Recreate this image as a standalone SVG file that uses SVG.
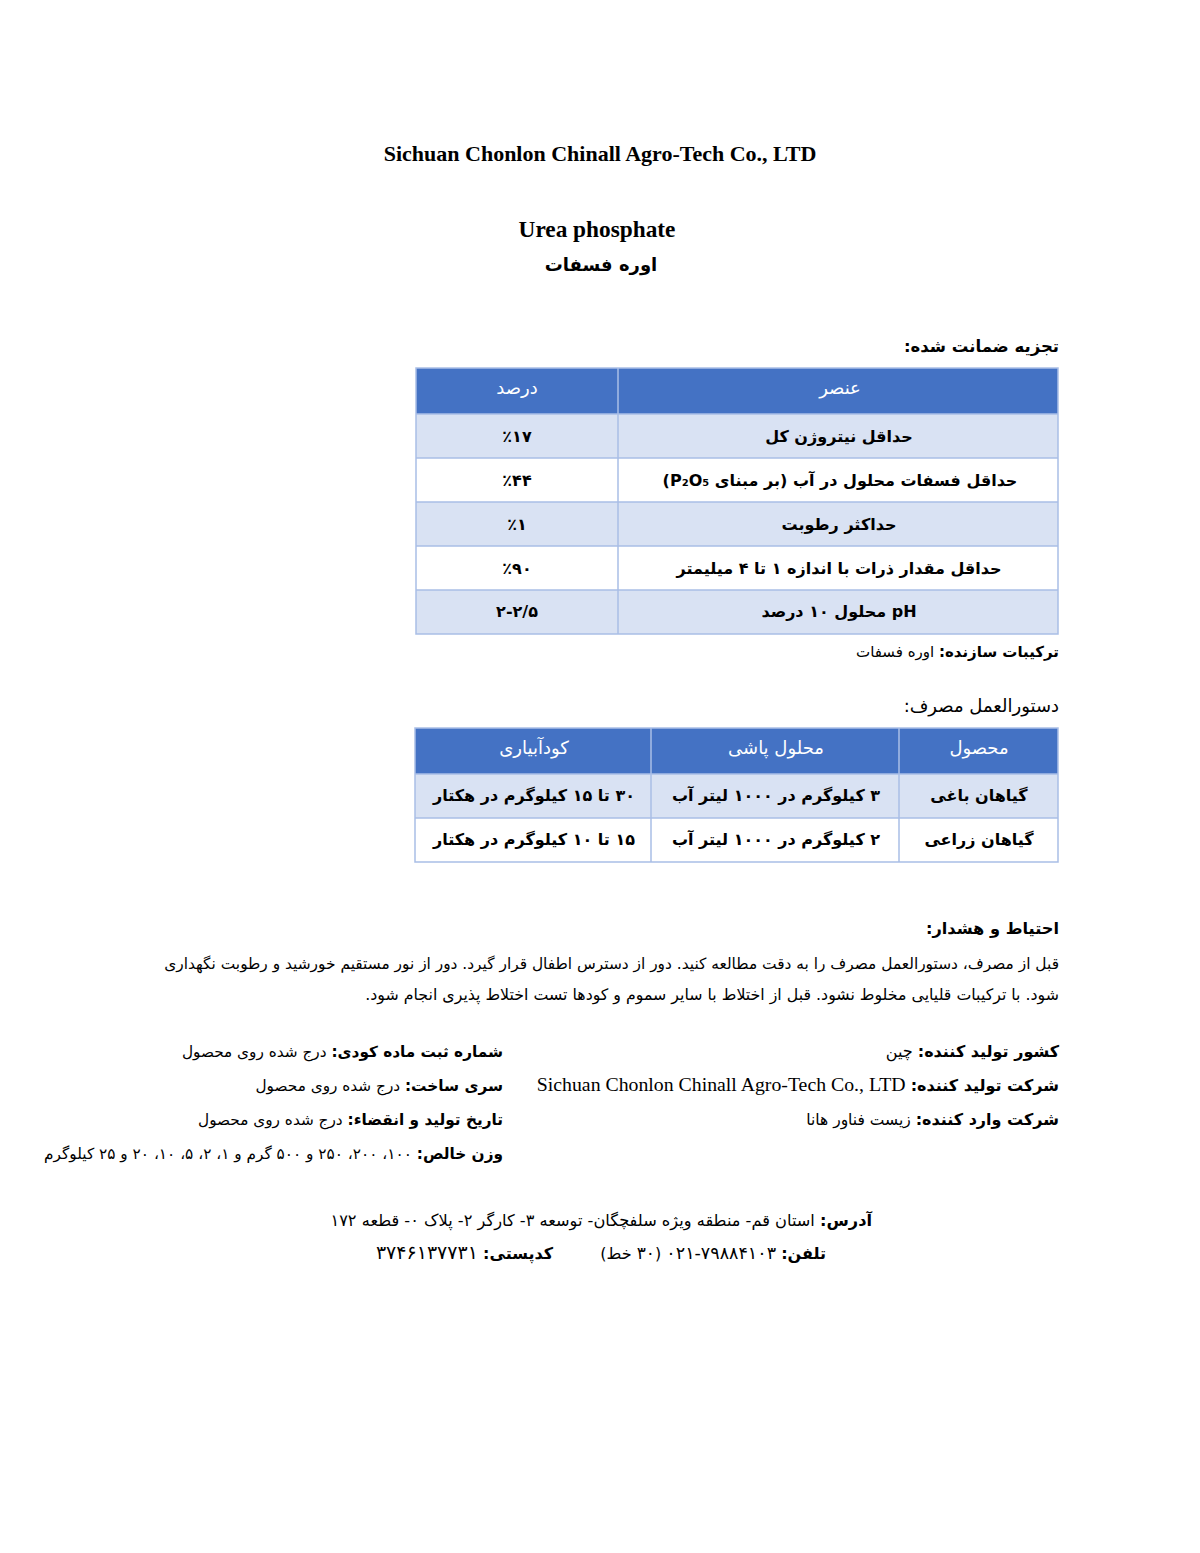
<svg xmlns="http://www.w3.org/2000/svg" width="1200" height="1553" viewBox="0 0 1200 1553">
<style>
.en{font-family:"Liberation Serif","DejaVu Sans",serif;fill:#000}
.fa{font-family:"DejaVu Sans","Liberation Serif",sans-serif;fill:#000}
.b{font-weight:bold}
.hd{fill:#4472C4}
.lt{fill:#D9E2F3}
.wt{fill:#FFFFFF}
.grid{stroke:#A9BEE6;stroke-width:1.5;fill:none}
.th{font-family:"DejaVu Sans",sans-serif;fill:#FFFFFF;font-size:18px}
.td{font-family:"DejaVu Sans","Liberation Serif",sans-serif;font-weight:bold;fill:#000;font-size:16px}
</style>
<rect width="1200" height="1553" fill="#FFFFFF"/>

<g id="titles">
<text class="en b" x="600" y="161" font-size="22" text-anchor="middle">Sichuan Chonlon Chinall Agro-Tech Co., LTD</text>
<text class="en b" x="597" y="237" font-size="23.3" text-anchor="middle">Urea phosphate</text>
<text class="fa b" x="601" y="271" font-size="18" text-anchor="middle" direction="rtl">اوره فسفات</text>
</g>

<g id="analysis">
<text class="fa b" x="1059" y="352" font-size="16.5" direction="rtl" text-anchor="start">تجزیه ضمانت شده:</text>
<rect class="hd" x="416" y="368" width="642" height="46"/>
<rect class="lt" x="416" y="414" width="642" height="44"/>
<rect class="wt" x="416" y="458" width="642" height="44"/>
<rect class="lt" x="416" y="502" width="642" height="44"/>
<rect class="wt" x="416" y="546" width="642" height="44"/>
<rect class="lt" x="416" y="590" width="642" height="44"/>
<path class="grid" d="M416 368H1058V634H416Z M618 368V634 M416 414H1058 M416 458H1058 M416 502H1058 M416 546H1058 M416 590H1058"/>
<text class="th" x="517" y="394" text-anchor="middle" direction="rtl">درصد</text>
<text class="th" x="840" y="394" text-anchor="middle" direction="rtl">عنصر</text>
<text class="td" x="517" y="442" text-anchor="middle">٪۱۷</text>
<text class="td" x="839" y="442" text-anchor="middle" direction="rtl">حداقل نیتروژن کل</text>
<text class="td" x="517" y="486" text-anchor="middle">٪۴۴</text>
<text class="td" x="840" y="486" text-anchor="middle" direction="rtl">حداقل فسفات محلول در آب (بر مبنای P₂O₅)</text>
<text class="td" x="517" y="530" text-anchor="middle">٪۱</text>
<text class="td" x="839" y="530" text-anchor="middle" direction="rtl">حداکثر رطوبت</text>
<text class="td" x="517" y="574" text-anchor="middle">٪۹۰</text>
<text class="td" x="839" y="574" text-anchor="middle" direction="rtl">حداقل مقدار ذرات با اندازه ۱ تا ۴ میلیمتر</text>
<text class="td" x="517" y="617" text-anchor="middle" direction="ltr">۲-۲/۵</text>
<text class="td" x="839" y="617" text-anchor="middle" direction="rtl">pH محلول ۱۰ درصد</text>
<text class="fa" x="1059" y="657" font-size="15" direction="rtl" text-anchor="start"><tspan class="b">ترکیبات سازنده:</tspan> اوره فسفات</text>
</g>

<g id="usage">
<text class="fa" x="1059" y="712" font-size="18" direction="rtl" text-anchor="start">دستورالعمل مصرف:</text>
<rect class="hd" x="415" y="728" width="643" height="46"/>
<rect class="lt" x="415" y="774" width="643" height="44"/>
<rect class="wt" x="415" y="818" width="643" height="44"/>
<path class="grid" d="M415 728H1058V862H415Z M651 728V862 M899 728V862 M415 774H1058 M415 818H1058"/>
<text class="th" x="534" y="754" text-anchor="middle" direction="rtl">کودآبیاری</text>
<text class="th" x="776" y="754" text-anchor="middle" direction="rtl">محلول پاشی</text>
<text class="th" x="979" y="754" text-anchor="middle" direction="rtl">محصول</text>
<text class="td" x="534" y="801" text-anchor="middle" direction="rtl">۳۰ تا ۱۵ کیلوگرم در هکتار</text>
<text class="td" x="776" y="801" text-anchor="middle" direction="rtl">۳ کیلوگرم در ۱۰۰۰ لیتر آب</text>
<text class="td" x="979" y="801" text-anchor="middle" direction="rtl">گیاهان باغی</text>
<text class="td" x="534" y="845" text-anchor="middle" direction="rtl">۱۵ تا ۱۰ کیلوگرم در هکتار</text>
<text class="td" x="776" y="845" text-anchor="middle" direction="rtl">۲ کیلوگرم در ۱۰۰۰ لیتر آب</text>
<text class="td" x="979" y="845" text-anchor="middle" direction="rtl">گیاهان زراعی</text>
</g>

<g id="warning">
<text class="fa b" x="1059" y="934" font-size="16.2" direction="rtl" text-anchor="start">احتیاط و هشدار:</text>
<text class="fa" x="1059" y="969" font-size="15.4" direction="rtl" text-anchor="start">قبل از مصرف، دستورالعمل مصرف را به دقت مطالعه کنید. دور از دسترس اطفال قرار گیرد. دور از نور مستقیم خورشید و رطوبت نگهداری</text>
<text class="fa" x="1059" y="1000" font-size="15.8" direction="rtl" text-anchor="start">شود. با ترکیبات قلیایی مخلوط نشود. قبل از اختلاط با سایر سموم و کودها تست اختلاط پذیری انجام شود.</text>
</g>

<g id="info-right">
<text class="fa" x="1059" y="1057" font-size="16" direction="rtl" text-anchor="start"><tspan class="b">کشور تولید کننده:</tspan> چین</text>
<text class="fa" x="1059" y="1091" font-size="16" direction="rtl" text-anchor="start"><tspan class="b">شرکت تولید کننده:</tspan> <tspan font-family="Liberation Serif" font-size="19.8">Sichuan Chonlon Chinall Agro-Tech Co., LTD</tspan></text>
<text class="fa" x="1059" y="1125" font-size="15.5" direction="rtl" text-anchor="start"><tspan class="b" font-size="16">شرکت وارد کننده:</tspan> زیست فناور هانا</text>
</g>

<g id="info-left">
<text class="fa" x="503" y="1057" font-size="15.3" direction="rtl" text-anchor="start"><tspan class="b">شماره ثبت ماده کودی:</tspan> درج شده روی محصول</text>
<text class="fa" x="503" y="1091" font-size="15.3" direction="rtl" text-anchor="start"><tspan class="b">سری ساخت:</tspan> درج شده روی محصول</text>
<text class="fa" x="503" y="1125" font-size="15.3" direction="rtl" text-anchor="start"><tspan class="b">تاریخ تولید و انقضاء:</tspan> درج شده روی محصول</text>
<text class="fa" x="503" y="1159" font-size="15.3" direction="rtl" text-anchor="start"><tspan class="b">وزن خالص:</tspan> ۱۰۰، ۲۰۰، ۲۵۰ و ۵۰۰ گرم و ۱، ۲، ۵، ۱۰، ۲۰ و ۲۵ کیلوگرم</text>
</g>

<g id="address">
<text class="fa" x="872" y="1226" font-size="16.2" direction="rtl" text-anchor="start"><tspan class="b">آدرس:</tspan> استان قم- منطقه ویژه سلفچگان- توسعه ۳- کارگر ۲- پلاک ۰- قطعه ۱۷۲</text>
<text class="fa" x="826" y="1259" font-size="16" direction="rtl" text-anchor="start"><tspan class="b">تلفن:</tspan> &#x2066;<tspan font-size="17.5">۰۲۱-۷۹۸۸۴۱۰۳</tspan>&#x2069; (<tspan font-size="17">۳۰</tspan> خط)</text>
<text class="fa" x="553" y="1259" font-size="16" direction="rtl" text-anchor="start"><tspan class="b">کدپستی:</tspan>  <tspan font-size="19">۳۷۴۶۱۳۷۷۳۱</tspan></text>
</g>
</svg>
